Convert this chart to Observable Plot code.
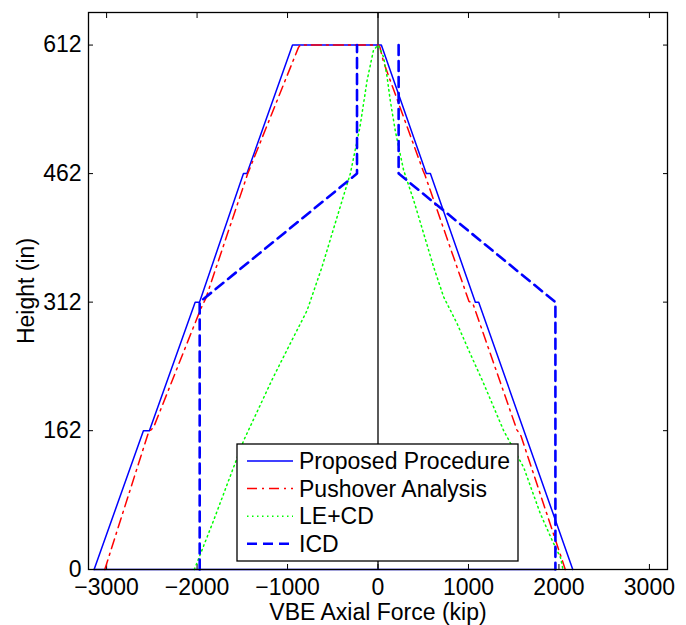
<!DOCTYPE html>
<html><head><meta charset="utf-8">
<script src="https://cdn.jsdelivr.net/npm/d3@7"></script>
<script src="https://cdn.jsdelivr.net/npm/@observablehq/plot@0.6"></script>
<style>body{margin:0;background:#fff;} #chart{width:686px;height:625px;}</style>
</head><body><div id="chart"></div>
<script>
// ---- data ----
const xTicks = [-3000, -2000, -1000, 0, 1000, 2000, 3000];
const yTicks = [0, 162, 312, 462, 612];
const xLabel = "VBE Axial Force (kip)";
const yLabel = "Height (in)";
const seriesNames = ["Proposed Procedure", "Pushover Analysis", "LE+CD", "ICD"];

const proposedX = [-3138, -2593, -2527, -2021, -1973, -1487, -1449, -945, 37, 534, 579, 1076, 1113, 2153];
const proposedY = [0, 162, 162, 312, 312, 462, 462, 612, 612, 462, 462, 312, 312, 0];
const baselineSpan = [-3138, 1961];

const pushoverX = [-3020, -2537, -2480, -1960, -1905, -1440, -880, -860, 0, 20, 62, 500, 520, 1005, 1050, 1535, 1580, 2070];
const pushoverY = [0, 160, 166, 304, 316, 462, 609, 612, 612, 610, 592, 465, 460, 313, 310, 163, 156, 0];

const lecdX = [-2030, -1818, -1487, -1173, -1007, -785, -619, -453, -306, -200, -120, -50, 0, 62, 100, 136, 191, 283, 394, 505, 615, 726, 874, 1002, 1168, 1389, 1611, 1795, 1925, 2017, 2045];
const lecdY = [0, 57, 150, 221, 256, 302, 353, 411, 462, 516, 571, 606, 612, 598, 575, 547, 512, 466, 431, 392, 353, 318, 287, 256, 217, 162, 119, 65, 34, 14, 0];

const icdLeftX = [-1971, -1971, -232, -232];
const icdLeftY = [0, 312, 462, 612];
const icdRightX = [228, 228, 1961, 1961];
const icdRightY = [612, 462, 312, 0];

// ---- build tables ----
const toRows = (xs, ys, extra = {}) => xs.map((x, i) => ({x, y: ys[i], ...extra}));
const proposed = toRows(proposedX, proposedY);
const pushover = toRows(pushoverX, pushoverY);
const lecd = toRows(lecdX, lecdY);
const icd = [...toRows(icdLeftX, icdLeftY, {side: "L"}), ...toRows(icdRightX, icdRightY, {side: "R"})];

const BLUE = "#0000ff", RED = "#ff0000", GREEN = "#00ff00";
const styles = [
  {stroke: BLUE, strokeWidth: 1.5, dash: null},
  {stroke: RED, strokeWidth: 1.5, dash: "10,5,2,5"},
  {stroke: GREEN, strokeWidth: 1.5, dash: "1.5,3.5"},
  {stroke: BLUE, strokeWidth: 2.6, dash: "10,6"}
];
const fmt = d => d < 0 ? "\u2212" + Math.abs(d) : String(d);
const FONT = "'Liberation Sans', Arial, Helvetica, sans-serif";
const FS = 23;

const chart = Plot.plot({
  width: 686, height: 625,
  marginLeft: 88, marginRight: 19, marginTop: 12, marginBottom: 56,
  style: `font-family: ${FONT}; font-size: ${FS}px; background: white; color: black; overflow: visible;`,
  x: {domain: [-3200, 3200]},
  y: {domain: [0, 650]},
  marks: [
    Plot.axisX({anchor: "bottom", ticks: xTicks, tickSize: -5, tickPadding: 14, tickFormat: fmt, label: null, fontSize: FS}),
    Plot.axisX({anchor: "top", ticks: xTicks, tickSize: -5, tickFormat: () => "", label: null}),
    Plot.axisY({anchor: "left", ticks: yTicks, tickSize: -5, tickPadding: 12, tickFormat: fmt, label: null, fontSize: FS}),
    Plot.axisY({anchor: "right", ticks: yTicks, tickSize: -5, tickFormat: () => "", label: null}),
    Plot.ruleX([0], {stroke: "black", strokeWidth: 1.3}),
    Plot.line(proposed, {x: "x", y: "y", stroke: styles[0].stroke, strokeWidth: styles[0].strokeWidth}),
    Plot.ruleY([0], {x1: baselineSpan[0], x2: baselineSpan[1], stroke: BLUE, strokeWidth: 1.5}),
    Plot.line(pushover, {x: "x", y: "y", stroke: styles[1].stroke, strokeWidth: styles[1].strokeWidth, strokeDasharray: styles[1].dash}),
    Plot.line(lecd, {x: "x", y: "y", stroke: styles[2].stroke, strokeWidth: styles[2].strokeWidth, strokeDasharray: styles[2].dash}),
    Plot.line(icd, {x: "x", y: "y", z: "side", stroke: styles[3].stroke, strokeWidth: styles[3].strokeWidth, strokeDasharray: styles[3].dash}),
    Plot.text([yLabel], {text: d => d, frameAnchor: "left", dx: -62, rotate: -90, textAnchor: "middle", lineAnchor: "middle", fontSize: FS}),
    Plot.text([xLabel], {text: d => d, frameAnchor: "bottom", dy: 43, textAnchor: "middle", lineAnchor: "middle", fontSize: FS}),
    Plot.frame({stroke: "black", strokeWidth: 1.3})
  ]
});

// ---- legend box (inside the axes, like the original) ----
const svg = d3.select(chart);
const lg = svg.append("g").attr("transform", "translate(237,444)");
lg.append("rect").attr("width", 281).attr("height", 117).attr("fill", "white").attr("stroke", "black").attr("stroke-width", 1.3);
seriesNames.forEach((name, i) => {
  const cy = 17 + i * 27.6;
  const s = styles[i];
  lg.append("line").attr("x1", 10).attr("x2", 56).attr("y1", cy).attr("y2", cy)
    .attr("stroke", s.stroke).attr("stroke-width", s.strokeWidth)
    .attr("stroke-dasharray", s.dash);
  lg.append("text").attr("x", 62).attr("y", cy).attr("dy", "0.35em")
    .attr("text-anchor", "start")
    .attr("font-family", FONT).attr("font-size", FS).attr("fill", "black").text(name);
});

document.getElementById("chart").appendChild(chart);
</script>
</body></html>
